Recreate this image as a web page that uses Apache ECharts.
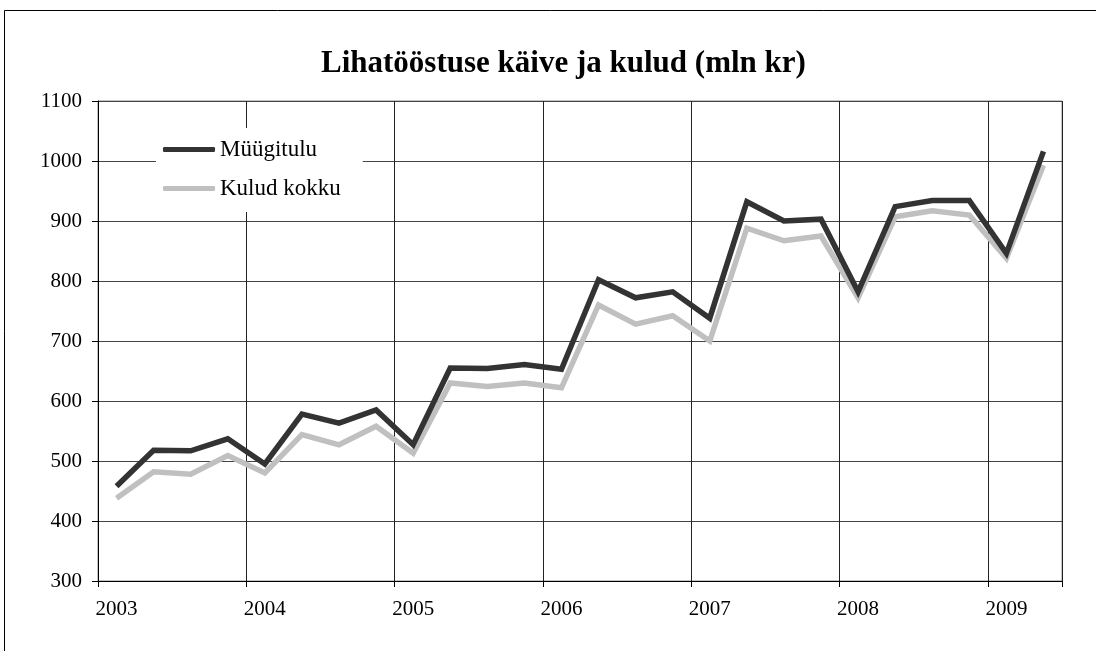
<!DOCTYPE html>
<html>
<head>
<meta charset="utf-8">
<script src="https://cdn.jsdelivr.net/npm/echarts@6/dist/echarts.min.js"></script>
<style>
  html, body { margin: 0; padding: 0; background: #fff; }
  #main { width: 1096px; height: 651px; }
</style>
</head>
<body>
<div id="main"></div>
<script>
  // kvartalid 2003 I ... 2009 II
  var quarters = [
    '2003 I', '2003 II', '2003 III', '2003 IV',
    '2004 I', '2004 II', '2004 III', '2004 IV',
    '2005 I', '2005 II', '2005 III', '2005 IV',
    '2006 I', '2006 II', '2006 III', '2006 IV',
    '2007 I', '2007 II', '2007 III', '2007 IV',
    '2008 I', '2008 II', '2008 III', '2008 IV',
    '2009 I', '2009 II'
  ];
  var sales = [458, 518, 517, 537, 495, 578, 563, 585, 527, 655, 654, 661, 653,
               802, 772, 782, 738, 932, 900, 903, 782, 924, 934, 934, 846, 1016];
  var costs = [438, 482, 478, 509, 480, 544, 527, 558, 513, 630, 624, 630, 622,
               760, 728, 742, 700, 888, 867, 875, 772, 907, 917, 910, 838, 993];

  var font = 'Liberation Serif';
  var chart = echarts.init(document.getElementById('main'));

  var option = {
    animation: false,
    backgroundColor: '#fff',
    title: {
      text: 'Lihatööstuse käive ja kulud (mln kr)',
      left: 316,
      top: 43,
      textStyle: { fontFamily: font, fontSize: 31, fontWeight: 'bold', color: '#000' }
    },
    graphic: [{
      type: 'rect',
      shape: { x: 4.5, y: 10.5, width: 1200, height: 800 },
      style: { fill: 'none', stroke: '#000', lineWidth: 1 },
      silent: true
    }],
    legend: {
      orient: 'vertical',
      left: 156,
      top: 128,
      backgroundColor: '#fff',
      padding: [10, 22, 12, 7],
      itemGap: 16,
      itemWidth: 52,
      itemHeight: 5,
      icon: 'roundRect',
      textStyle: { fontFamily: font, fontSize: 23, color: '#000' },
      data: ['Müügitulu', 'Kulud kokku']
    },
    grid: {
      left: 98,
      top: 101,
      width: 964,
      height: 480,
      show: true,
      borderColor: '#888',
      borderWidth: 1,
      backgroundColor: '#fff'
    },
    xAxis: {
      type: 'category',
      data: quarters,
      boundaryGap: true,
      axisLine: { lineStyle: { color: '#000', width: 1 } },
      axisTick: { show: true, interval: 3, length: 6, lineStyle: { color: '#000' } },
      axisLabel: {
        interval: 3,
        margin: 18,
        fontFamily: font,
        fontSize: 21,
        color: '#000',
        formatter: function (v) { return v.split(' ')[0]; }
      },
      splitLine: { show: true, interval: 3, lineStyle: { color: '#222', width: 1 } }
    },
    yAxis: {
      type: 'value',
      min: 300,
      max: 1100,
      interval: 100,
      axisLine: { show: true, lineStyle: { color: '#000', width: 1 } },
      axisTick: { show: true, length: 6, lineStyle: { color: '#000' } },
      axisLabel: {
        margin: 16,
        fontFamily: font,
        fontSize: 21,
        color: '#000',
        formatter: function (v) { return String(v); }
      },
      splitLine: { show: true, lineStyle: { color: '#444', width: 1 } }
    },
    series: [
      {
        name: 'Kulud kokku',
        type: 'line',
        data: costs,
        symbol: 'none',
        showSymbol: false,
        z: 2,
        lineStyle: { color: '#c0c0c0', width: 5.5, join: 'miter' },
        itemStyle: { color: '#c0c0c0' }
      },
      {
        name: 'Müügitulu',
        type: 'line',
        data: sales,
        symbol: 'none',
        showSymbol: false,
        z: 3,
        lineStyle: { color: '#333333', width: 5.5, join: 'miter' },
        itemStyle: { color: '#333333' }
      }
    ]
  };

  chart.setOption(option);
</script>
</body>
</html>
